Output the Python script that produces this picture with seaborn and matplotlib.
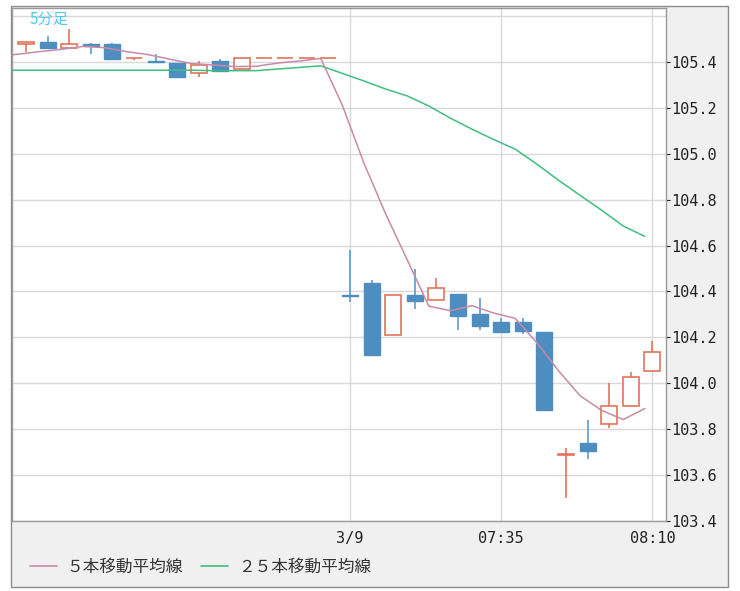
import numpy as np
import pandas as pd
import matplotlib
matplotlib.use("Agg")
import matplotlib.pyplot as plt
from matplotlib.lines import Line2D
from matplotlib.patches import Rectangle
import seaborn as sns

# 5-minute candles, index 15 = first bar of 3/9
opens = [105.480, 105.487, 105.459, 105.479, 105.477, 105.416, 105.404, 105.394,
         105.351, 105.406, 105.368, 105.415, 105.415, 105.415, 105.415,
         104.385, 104.438, 104.212, 104.383, 104.365, 104.390, 104.303, 104.269,
         104.269, 104.225, 103.688, 103.742, 103.824, 103.901, 104.054]
highs = [105.486, 105.515, 105.542, 105.483, 105.483, 105.418, 105.434, 105.394,
         105.404, 105.412, 105.415, 105.415, 105.415, 105.415, 105.415,
         104.579, 104.448, 104.383, 104.499, 104.460, 104.390, 104.372, 104.285,
         104.285, 104.225, 103.717, 103.840, 104.001, 104.051, 104.186]
lows = [105.443, 105.460, 105.459, 105.435, 105.412, 105.408, 105.398, 105.336,
        105.336, 105.361, 105.368, 105.415, 105.415, 105.415, 105.415,
        104.353, 104.123, 104.212, 104.324, 104.365, 104.233, 104.233, 104.222,
        104.215, 103.885, 103.502, 103.669, 103.805, 103.901, 104.054]
closes = [105.486, 105.460, 105.477, 105.471, 105.412, 105.418, 105.398, 105.336,
          105.387, 105.361, 105.415, 105.415, 105.415, 105.415, 105.415,
          104.380, 104.123, 104.383, 104.358, 104.414, 104.292, 104.249, 104.222,
          104.227, 103.885, 103.690, 103.703, 103.901, 104.026, 104.135]

# moving averages, first value belongs to the bar before the visible range
ma5 = [105.424, 105.434, 105.445, 105.455, 105.468, 105.462, 105.445, 105.432,
       105.412, 105.393, 105.387, 105.380, 105.381, 105.395, 105.404, 105.415,
       105.210, 104.958, 104.738, 104.538, 104.336, 104.316, 104.338, 104.306,
       104.283, 104.177, 104.055, 103.946, 103.882, 103.842, 103.890]
ma25 = [105.364, 105.364, 105.364, 105.364, 105.364, 105.364, 105.364, 105.364,
        105.364, 105.364, 105.362, 105.362, 105.362, 105.369, 105.376, 105.383,
        105.350, 105.317, 105.282, 105.252, 105.208, 105.155, 105.107, 105.062,
        105.020, 104.955, 104.885, 104.819, 104.754, 104.685, 104.640]

x_tick_pos = [15, 22, 29]
x_tick_labels = ["3/9", "07:35", "08:10"]
y_ticks = [103.4, 103.6, 103.8, 104.0, 104.2, 104.4, 104.6, 104.8, 105.0, 105.2, 105.4]
legend_labels = ["５本移動平均線", "２５本移動平均線"]

up_col = "#e2745a"
dn_col = "#4d8dc0"
ma5_col = "#c98aa8"
ma25_col = "#3fbf7f"
grid_col = "#d9d9d9"

sns.set_theme(style="white")
plt.rcParams["font.family"] = ["Noto Sans CJK JP", "DejaVu Sans"]

W, H = 740, 591
fig = plt.figure(figsize=(W / 100, H / 100), dpi=100, facecolor="white")
fig.add_artist(Rectangle((11 / W, 4 / H), 717 / W, 581 / H, transform=fig.transFigure,
                         facecolor="#f0f0f0", edgecolor="#8c8c8c", lw=1, zorder=0))
ax = fig.add_axes([12 / W, 70 / H, 654 / W, 513 / H])
ax.set_facecolor("white")

o = np.array(opens)
c = np.array(closes)
x = np.arange(len(o))
up = c >= o

# wicks then bodies
ax.vlines(x[up], np.array(lows)[up], np.array(highs)[up], color=up_col, lw=1.2, zorder=2)
ax.vlines(x[~up], np.array(lows)[~up], np.array(highs)[~up], color="#5a9bcf", lw=1.2, zorder=2)
ax.bar(x[up], (c - o)[up], bottom=o[up], width=0.74, facecolor="white",
       edgecolor=up_col, lw=1.2, zorder=3)
ax.bar(x[~up], (o - c)[~up], bottom=c[~up], width=0.74, color=dn_col,
       edgecolor=dn_col, lw=1, zorder=3)

# MA points sit a bit left of candle centres in the original
df = pd.DataFrame({"x": np.arange(-1, len(o)) - 0.35, "ma5": ma5, "ma25": ma25})
sns.lineplot(data=df, x="x", y="ma25", color=ma25_col, lw=1.1, estimator=None, ax=ax, zorder=4)
sns.lineplot(data=df, x="x", y="ma5", color=ma5_col, lw=1.1, estimator=None, ax=ax, zorder=5)

ax.set_xlim(-0.648, 29.63)
ax.set_ylim(103.4, 105.635)
ax.set_xlabel("")
ax.set_ylabel("")

ax.set_axisbelow(True)
ax.grid(True, color=grid_col, lw=1)
ax.axhline(105.6, color=grid_col, lw=1, zorder=0)

ax.yaxis.tick_right()
ax.set_yticks(y_ticks, [f"{v:.1f}" for v in y_ticks])
ax.set_xticks(x_tick_pos, x_tick_labels)
ax.tick_params(axis="y", length=3, width=0.8, pad=1, labelsize=11, colors="#222222")
ax.tick_params(axis="x", length=0, pad=7, labelsize=11, colors="#222222")
for lab in ax.get_xticklabels() + ax.get_yticklabels():
    lab.set_fontfamily("DejaVu Sans Mono")

for sp in ax.spines.values():
    sp.set_color("#9a9a9a")
    sp.set_linewidth(1)

ax.text(0.027, 1 - 11 / 513, "5分足", transform=ax.transAxes, ha="left", va="center",
        fontsize=11, color="#55c6ee")

handles = [Line2D([], [], color=ma5_col, lw=1.2), Line2D([], [], color=ma25_col, lw=1.2)]
fig.legend(handles, legend_labels, loc="center left", bbox_to_anchor=(30 / W, 1 - 567 / H),
           ncol=2, frameon=False, fontsize=12, labelcolor="#333333", handlelength=1.6,
           handletextpad=0.6, columnspacing=1.1, borderpad=0, borderaxespad=0)

fig.savefig("out.png", dpi=100)
plt.close(fig)
